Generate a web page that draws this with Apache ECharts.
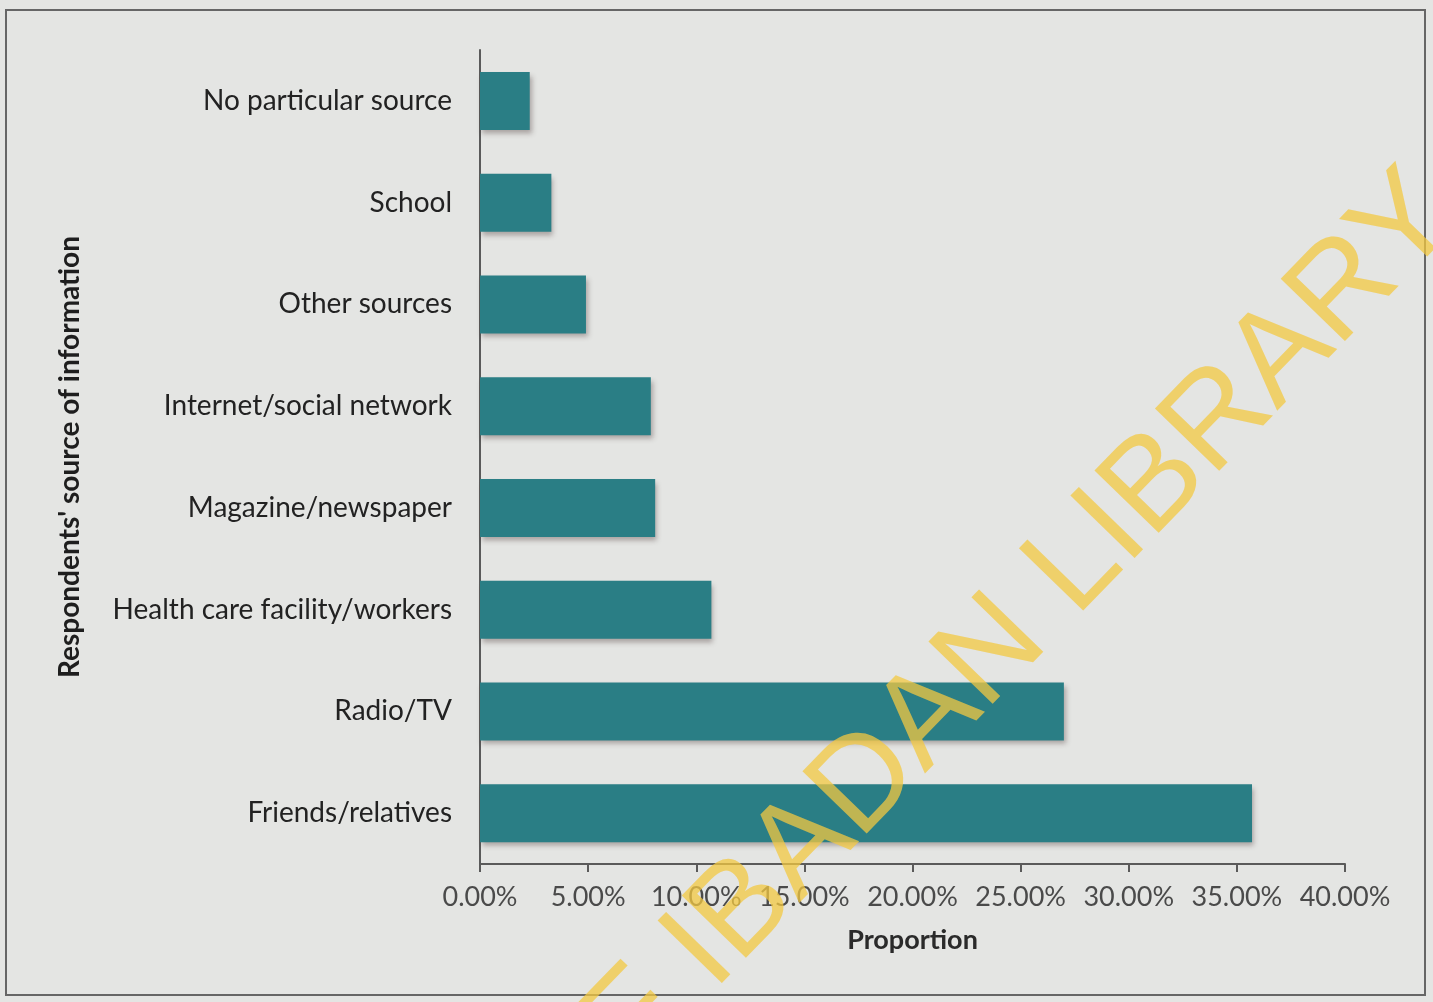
<!DOCTYPE html>
<html>
<head>
<meta charset="utf-8">
<script src="https://cdn.jsdelivr.net/npm/echarts@6/dist/echarts.min.js"></script>
<style>
html,body{margin:0;padding:0;background:#e4e5e3;}
#c{width:1433px;height:1002px;}
</style>
</head>
<body>
<div id="c"></div>
<script>
var categories = ["Friends/relatives","Radio/TV","Health care facility/workers","Magazine/newspaper","Internet/social network","Other sources","School","No particular source"];
var values = [35.7, 27.0, 10.7, 8.1, 7.9, 4.9, 3.3, 2.3];
var tickMin = 0, tickMax = 40, tickStep = 5;

var chart = echarts.init(document.getElementById('c'));
chart.setOption({
  backgroundColor: '#e4e5e3',
  animation: false,
  grid: {left: 480, right: 88, top: 50, bottom: 138},
  xAxis: {
    type: 'value', min: tickMin, max: tickMax, interval: tickStep,
    name: 'Proportion', nameLocation: 'middle', nameGap: 63,
    nameTextStyle: {fontFamily: 'Lato', fontWeight: 'bold', fontSize: 27, color: '#2a2a2a'},
    axisLine: {show: true, lineStyle: {color: '#5a5a5a', width: 2}},
    axisTick: {show: true, length: 8, lineStyle: {color: '#5a5a5a', width: 2}},
    splitLine: {show: false},
    axisLabel: {fontFamily: 'Lato', fontSize: 27, color: '#4a4a4a', margin: 20,
      formatter: function(v){ return v.toFixed(2) + '%'; }}
  },
  yAxis: {
    type: 'category', data: categories,
    name: "Respondents' source of information", nameLocation: 'middle', nameGap: 396,
    nameRotate: 90,
    nameTextStyle: {fontFamily: 'Lato', fontWeight: 'bold', fontSize: 28, color: '#1e1e1e'},
    axisLine: {show: true, lineStyle: {color: '#5a5a5a', width: 2}},
    axisTick: {show: false},
    axisLabel: {fontFamily: 'Lato', fontSize: 28, color: '#222', margin: 28}
  },
  series: [{
    type: 'bar', data: values, barWidth: 58,
    itemStyle: {color: '#2a7e85', shadowColor: 'rgba(60,40,40,0.35)', shadowBlur: 5, shadowOffsetX: 2, shadowOffsetY: 4}
  }],
  graphic: [
    {type: 'rect', shape: {x: 6, y: 10, width: 1419, height: 985}, style: {fill: 'none', stroke: '#666', lineWidth: 2}, z: 0, silent: true},
    {type: 'text', x: 1436, y: 196, rotation: 0.80, z: 100, silent: true,
      style: {text: 'UNIVERSITY OF IBADAN LIBRARY', fontFamily: 'Liberation Sans', fontWeight: 'normal', fontSize: 130,
        fill: '#f3c842', opacity: 0.75, textAlign: 'right', textVerticalAlign: 'middle'}}
  ]
});
</script>
</body>
</html>
